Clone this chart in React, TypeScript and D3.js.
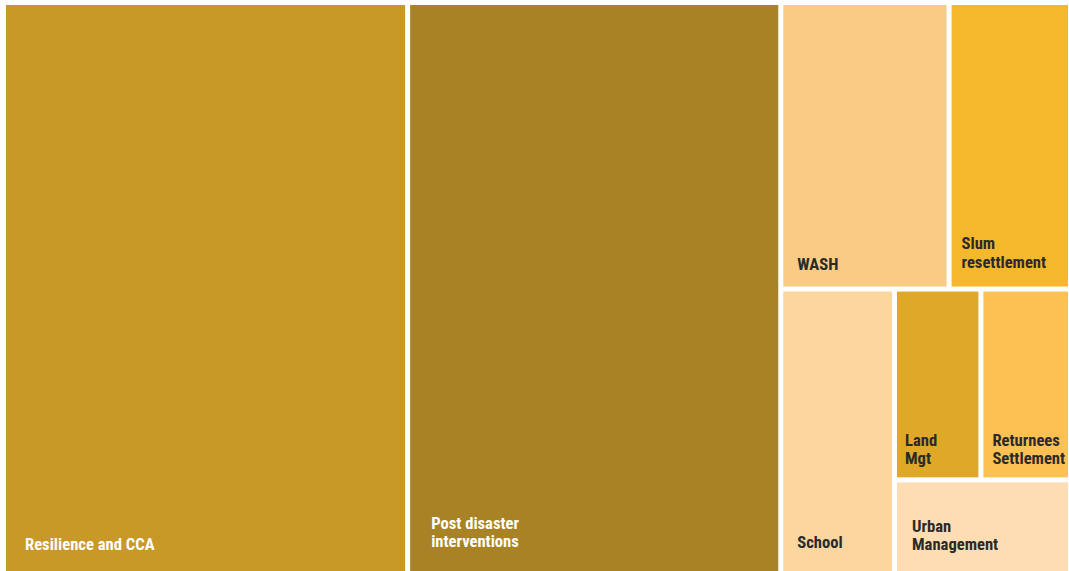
import React from "react";
import * as d3 from "d3";

// ---- Data ----
const categories = [
  "Resilience and CCA",
  "Post disaster interventions",
  "WASH",
  "Slum resettlement",
  "School",
  "Land Mgt",
  "Returnees Settlement",
  "Urban Management",
];
const values = [37.8, 34.9, 7.9, 5.7, 5.3, 2.7, 2.8, 2.7];
// label lines as in the picture
const labelLines = [
  ["Resilience and CCA"],
  ["Post disaster", "interventions"],
  ["WASH"],
  ["Slum", "resettlement"],
  ["School"],
  ["Land", "Mgt"],
  ["Returnees", "Settlement"],
  ["Urban", "Management"],
];
// grouping path describing how blocks nest in the layout
const groupPaths = [
  [],
  [],
  ["rest", "top"],
  ["rest", "top"],
  ["rest", "bottom"],
  ["rest", "bottom", "right", "row"],
  ["rest", "bottom", "right", "row"],
  ["rest", "bottom", "right"],
];

// ---- Styling ----
const fills = [
  "#C89926",
  "#A88224",
  "#FACB85",
  "#F5B72B",
  "#FCD69E",
  "#DFA829",
  "#FDC053",
  "#FEDDB4",
];
const textColors = ["#FFFFFF", "#FFFFFF", "#2A2A2A", "#2A2A2A", "#2A2A2A", "#2A2A2A", "#2A2A2A", "#2A2A2A"];
const insetLeft = [19, 21, 14, 10, 14, 8, 9, 15];
const insetBottom = [21, 24, 17, 19, 23, 13, 13, 21];

const W = 1069;
const H = 571;
const X0 = 6;
const Y0 = 5;
const X1 = 1068;
const Y1 = 571;

type Node = { name: string; index?: number; children?: Node[]; value?: number };

function buildTree(): Node {
  const root: Node = { name: "root", children: [] };
  categories.forEach((c, i) => {
    let cur = root;
    for (const g of groupPaths[i]) {
      let next = cur.children!.find((ch) => ch.name === g && ch.children);
      if (!next) {
        next = { name: g, children: [] };
        cur.children!.push(next);
      }
      cur = next;
    }
    cur.children!.push({ name: c, index: i, value: values[i] });
  });
  return root;
}

export default function App() {
  const tree = buildTree();
  const root = d3
    .hierarchy<Node>(tree)
    .sum((d) => (d.children ? 0 : d.value || 0));

  const tile = (node: any, x0: number, y0: number, x1: number, y1: number) => {
    if (node.depth % 2 === 0) d3.treemapDice(node, x0, y0, x1, y1);
    else d3.treemapSlice(node, x0, y0, x1, y1);
  };

  d3
    .treemap<Node>()
    .size([X1 - X0, Y1 - Y0])
    .paddingInner(5)
    .tile(tile)(root);

  const leaves = root.leaves() as d3.HierarchyRectangularNode<Node>[];

  return (
    <div style={{ position: "absolute", left: 0, top: 0 }}>
      <svg width={W} height={H} style={{ display: "block", background: "#FFFFFF" }}>
        <g transform={`translate(${X0},${Y0})`}>
          {leaves.map((lf) => {
            const i = lf.data.index!;
            const lines = labelLines[i];
            const lh = 18.3;
            const baseY = lf.y1 - insetBottom[i];
            return (
              <g key={categories[i]}>
                <rect
                  x={lf.x0}
                  y={lf.y0}
                  width={lf.x1 - lf.x0}
                  height={lf.y1 - lf.y0}
                  fill={fills[i]}
                />
                <text
                  fill={textColors[i]}
                  fontFamily="'Roboto Condensed', 'Liberation Sans Narrow', 'DejaVu Sans Condensed', sans-serif"
                  fontWeight={700}
                  fontSize={16.6}
                >
                  {lines.map((ln, k) => (
                    <tspan key={k} x={lf.x0 + insetLeft[i]} y={baseY - (lines.length - 1 - k) * lh}>
                      {ln}
                    </tspan>
                  ))}
                </text>
              </g>
            );
          })}
        </g>
      </svg>
    </div>
  );
}
